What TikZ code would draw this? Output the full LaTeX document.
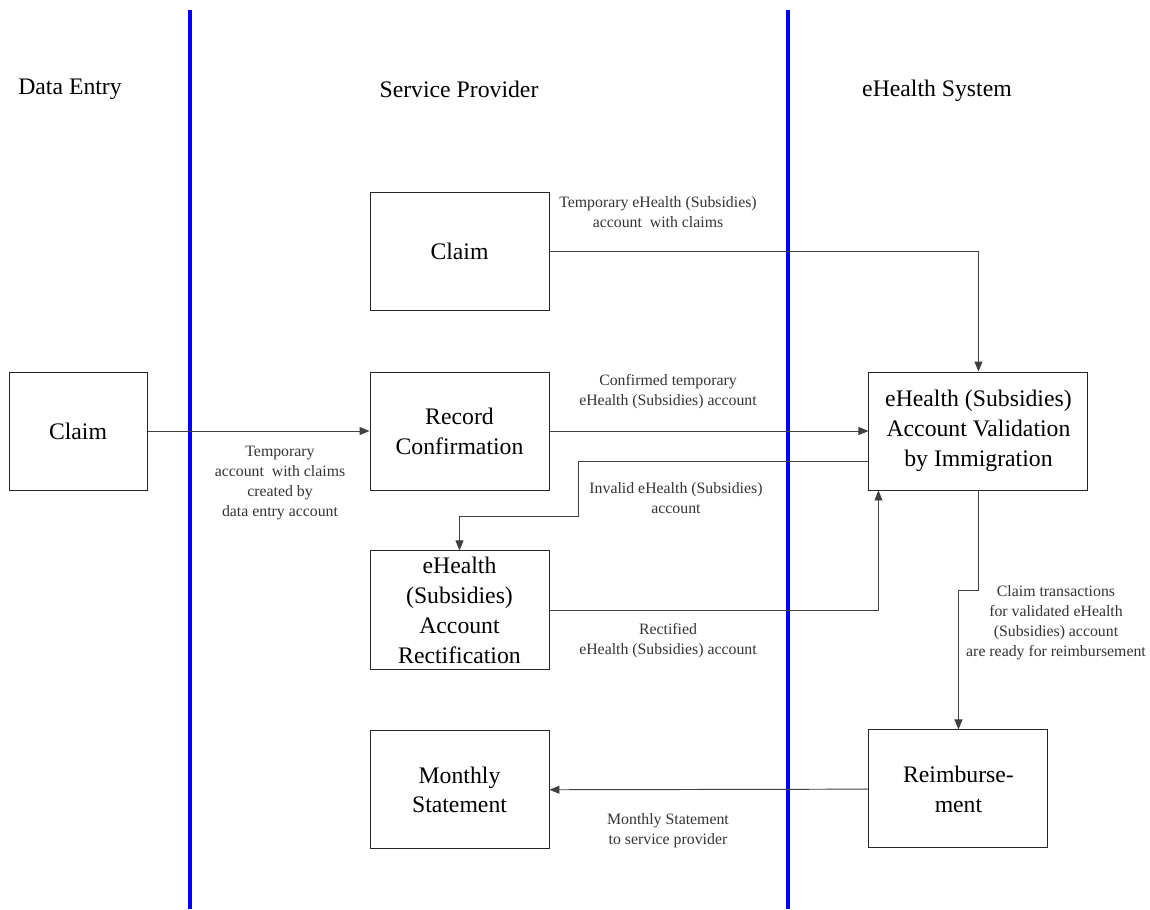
\documentclass[tikz,border=0pt]{standalone}
\usepackage{fontspec}
\setmainfont{Liberation Serif}
\usepackage{xcolor}
\usepackage{tikz}
\usetikzlibrary{arrows.meta,calc,positioning}

\begin{document}
\begin{tikzpicture}[
  box/.style={
    draw=black!85,
    line width=0.55pt,
    minimum width=3.58cm,
    minimum height=2.36cm,
    align=center,
    inner sep=2pt,
    font=\fontsize{13.5}{17}\selectfont
  },
  lane/.style={draw=blue,line width=2.8pt},
  header/.style={font=\fontsize{13.5}{15}\selectfont},
  msg/.style={align=center,font=\fontsize{9}{11.4}\selectfont,text=black!80},
  arrow/.style={-{Triangle[length=2mm,width=1.6mm]},line width=0.55pt,draw=black!75}
]
\useasboundingbox (0,0) rectangle (23,-18.18);
% swim lanes
\draw[lane] (3.8,-0.2) -- (3.8,-18.18);
\draw[lane] (15.76,-0.2) -- (15.76,-18.18);
\node[header] (hdata) at (1.4,-1.78) {Data Entry};
\node[header] (hprov) at (9.18,-1.78) {Service Provider};
\node[header] (hsys) at (18.74,-1.82) {eHealth System};
% boxes
\node[box] (rec) at (9.19,-8.62) {Record\\Confirmation};
\node[box,above=1.22cm of rec] (spclaim) {Claim};
\node[box,below=1.2cm of rec,minimum height=2.38cm] (rect) {eHealth\\(Subsidies)\\Account\\Rectification};
\node[box,below=1.2cm of rect] (monthly) {Monthly\\Statement};
\node[box,left=4.44cm of rec,minimum width=2.76cm] (dclaim) {Claim};
\node[box,right=6.38cm of rec,minimum width=4.38cm] (valid) {eHealth (Subsidies)\\Account Validation\\by Immigration};
\node[box,below right=4.78cm and 0cm of valid.south west] (reimb) {Reimburse-\\ment};
% connectors
\coordinate (bend) at ($(rec.south east)+(0.58,-0.52)$);
\draw[arrow] (dclaim) -- (rec);
\draw[arrow] (spclaim.east) -| (valid.north);
\draw[arrow] (rec) -- (valid);
\draw[arrow] ([yshift=-0.6cm]valid.west) -| (bend) -| (rect.north);
\draw[arrow] (rect.east) -| ([xshift=-2cm]valid.south);
\draw[arrow] (valid.south) -- ++(0,-2) -| (reimb.north);
\draw[arrow] (reimb) -- (monthly);
% labels
\node[msg] (m1) at (5.6,-9.66) {Temporary\\account~ with claims\\created by\\data entry account};
\node[msg] (m2) at (13.16,-4.24) {Temporary eHealth (Subsidies)\\account~ with claims};
\node[msg] (m3) at (13.36,-7.84) {Confirmed temporary\\eHealth (Subsidies) account};
\node[msg] (m4) at (13.52,-9.96) {Invalid eHealth (Subsidies)\\account};
\node[msg] (m5) at (13.36,-12.82) {Rectified\\eHealth (Subsidies) account};
\node[msg] (m6) at (21.12,-12.46) {Claim transactions\\for validated eHealth\\(Subsidies) account\\are ready for reimbursement};
\node[msg] (m7) at (13.36,-16.62) {Monthly Statement\\to service provider};
\end{tikzpicture}
\end{document}
